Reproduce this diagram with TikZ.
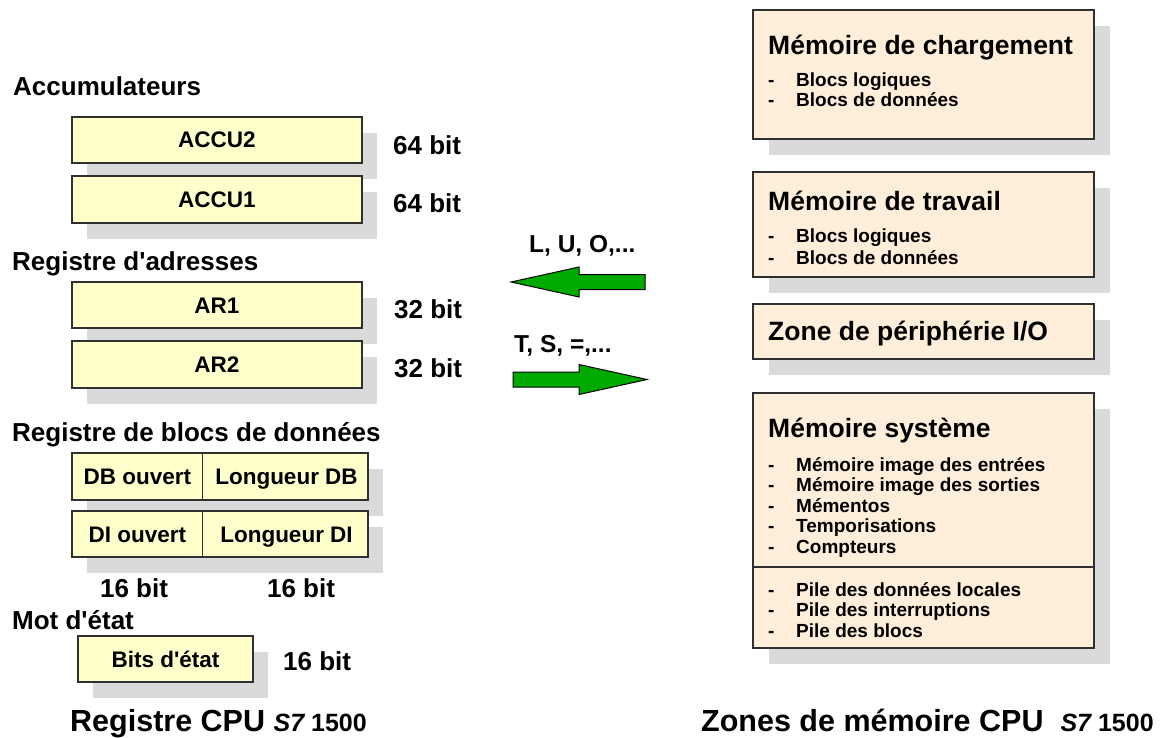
\documentclass[tikz,border=0pt]{standalone}
\usepackage{fontspec}
\setmainfont{Liberation Sans}[Ligatures=TeXOff]
\usetikzlibrary{shadows}

\definecolor{regfill}{HTML}{FFFFCC}
\definecolor{memfill}{HTML}{FFEFDA}
\definecolor{shadowgray}{HTML}{DADADA}
\definecolor{boxline}{HTML}{303030}
\definecolor{arrowgreen}{HTML}{00AA00}

% bold text at a given size (in pt)
\newcommand\bsz[1]{\fontsize{#1}{#1}\selectfont\bfseries}

\tikzset{
  regbox/.style={draw=boxline, line width=1.1pt, fill=regfill, inner sep=0pt,
    font=\bsz{22.5}, text height=16pt, text depth=0pt,
    drop shadow={shadow xshift=15pt, shadow yshift=-16pt, fill=shadowgray, opacity=1}},
  membox/.style={draw=boxline, line width=1.1pt, fill=memfill, inner sep=0pt,
    minimum width=341pt,
    drop shadow={shadow xshift=16pt, shadow yshift=-16pt, fill=shadowgray, opacity=1}},
  reglbl/.style={inner sep=0pt, font=\bsz{22.5}, text height=16pt, text depth=0pt},
  heading/.style={anchor=base west, inner sep=0pt, font=\bsz{26}},
  bitlbl/.style={anchor=base west, inner sep=0pt, font=\bsz{26}},
  bitlblc/.style={anchor=base, inner sep=0pt, font=\bsz{26}},
  memtitle/.style={anchor=base west, inner sep=0pt, font=\bsz{26.5}},
  memitem/.style={anchor=base west, inner sep=0pt, font=\bsz{19}},
  oplbl/.style={anchor=base west, inner sep=0pt, font=\bsz{24.5}},
  caption/.style={anchor=base west, inner sep=0pt, font=\bsz{30.5}},
  blockarrow/.style={draw=black, line width=1pt, fill=arrowgreen, line join=miter},
  divider/.style={draw=boxline, line width=1.1pt},
}

\begin{document}
\begin{tikzpicture}[x=1pt, y=-1pt]
\useasboundingbox (0,0) rectangle (1167,738);

% ---------------- CPU registers ----------------
\node[heading] (hacc) at (13,96) {Accumulateurs};
\node[regbox, minimum width=290pt, minimum height=46pt] (accu2) at (217,140) {ACCU2};
\node[regbox, minimum width=290pt, minimum height=47pt] (accu1) at (217,199.5) {ACCU1};
\node[bitlbl] (baccu2) at (393,155) {64 bit};
\node[bitlbl] (baccu1) at (393,212) {64 bit};

\node[heading] (hadr) at (12,270) {Registre d'adresses};
\node[regbox, minimum width=290pt, minimum height=46pt] (ar1) at (217,305) {AR1};
\node[regbox, minimum width=290pt, minimum height=47pt] (ar2) at (217,364.5) {AR2};
\node[bitlbl] (bar1) at (394,318) {32 bit};
\node[bitlbl] (bar2) at (394,377) {32 bit};

\node[heading] (hdb) at (12,441) {Registre de blocs de données};
\node[regbox, minimum width=296pt, minimum height=47pt] (dbreg) at (220,476.5) {};
\draw[divider] ([xshift=131pt]dbreg.north west) -- ([xshift=131pt]dbreg.south west);
\node[reglbl] (dbopen) at (137.5,476.5) {DB ouvert};
\node[reglbl] (dblen) at (286.5,476.5) {Longueur DB};
\node[regbox, minimum width=296pt, minimum height=46pt] (direg) at (220,534) {};
\draw[divider] ([xshift=131pt]direg.north west) -- ([xshift=131pt]direg.south west);
\node[reglbl] (diopen) at (137.5,534) {DI ouvert};
\node[reglbl] (dilen) at (286.5,534) {Longueur DI};
\node[bitlblc] (bdb1) at (134,597) {16 bit};
\node[bitlblc] (bdb2) at (301,597) {16 bit};

\node[heading] (hstat) at (12,629) {Mot d'état};
\node[regbox, minimum width=175pt, minimum height=46pt] (status) at (165.5,659) {Bits d'état};
\node[bitlbl] (bstat) at (283,670) {16 bit};

\node[caption] (capreg) at (70,731)
  {Registre CPU {\fontsize{25}{25}\selectfont\itshape S7\upshape\ 1500}};

% ---------------- transfer arrows ----------------
\node[oplbl] (opload) at (529,252) {L, U, O,...};
\draw[blockarrow] (511,282) -- (579,267) -- (579,274.5) -- (645,274.5)
  -- (645,289.5) -- (579,289.5) -- (579,297) -- cycle;
\node[oplbl] (opstore) at (514,352) {T, S, =,...};
\draw[blockarrow] (647,379.5) -- (579,364.5) -- (579,372) -- (513,372)
  -- (513,387) -- (579,387) -- (579,394.5) -- cycle;

% ---------------- CPU memory areas ----------------
\node[membox, minimum height=129pt] (load) at (923.5,74.5) {};
\node[memtitle] (tload) at (768,55) {Mémoire de chargement};
\foreach \t [count=\i] in {Blocs logiques, Blocs de données} {
  \node[memitem] (dload\i) at (768,{87+(\i-1)*20}) {-};
  \node[memitem] (iload\i) at (796,{87+(\i-1)*20}) {\t};
}

\node[membox, minimum height=105pt] (work) at (923.5,224.5) {};
\node[memtitle] (twork) at (768,211) {Mémoire de travail};
\foreach \t [count=\i] in {Blocs logiques, Blocs de données} {
  \node[memitem] (dwork\i) at (768,{243+(\i-1)*21}) {-};
  \node[memitem] (iwork\i) at (796,{243+(\i-1)*21}) {\t};
}

\node[membox, minimum height=55pt] (io) at (923.5,331.5) {};
\node[memtitle] (tio) at (768,340) {Zone de périphérie I/O};

\node[membox, minimum height=255pt] (sys) at (923.5,520.5) {};
\draw[divider] (sys.west |- 0,567) -- (sys.east |- 0,567);
\node[memtitle] (tsys) at (768,437) {Mémoire système};
\foreach \t [count=\i] in {Mémoire image des entrées, Mémoire image des sorties,
    Mémentos, Temporisations, Compteurs} {
  \node[memitem] (dsys\i) at (768,{471+(\i-1)*20.5}) {-};
  \node[memitem] (isys\i) at (796,{471+(\i-1)*20.5}) {\t};
}
\foreach \t [count=\i] in {Pile des données locales, Pile des interruptions,
    Pile des blocs} {
  \node[memitem] (dstk\i) at (768,{596+(\i-1)*20.5}) {-};
  \node[memitem] (istk\i) at (796,{596+(\i-1)*20.5}) {\t};
}

\node[caption] (capmem) at (701,731)
  {Zones de mémoire CPU\hspace{17pt}{\fontsize{25}{25}\selectfont\itshape S7\upshape\ 1500}};

\end{tikzpicture}
\end{document}
